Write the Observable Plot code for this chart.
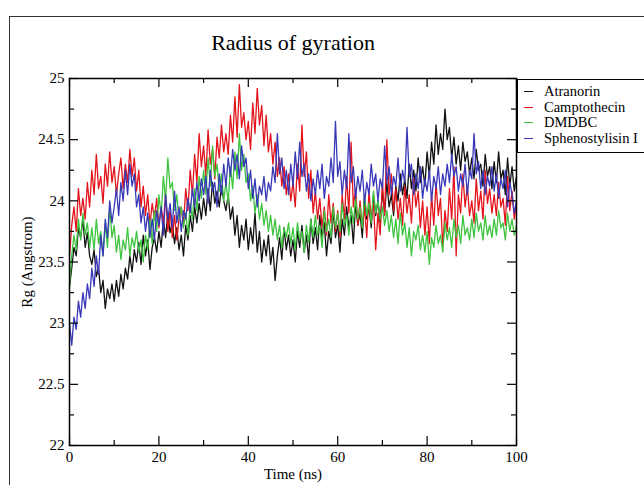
<!DOCTYPE html>
<html><head><meta charset="utf-8">
<script src="https://cdn.jsdelivr.net/npm/d3@7"></script>
<script src="https://cdn.jsdelivr.net/npm/@observablehq/plot@0.6"></script>
<style>
body{margin:0;background:#fff;}
#wrap{position:relative;width:644px;height:485px;overflow:hidden;font-family:'Liberation Serif','Times New Roman',serif;background:#fff;}
#wrap svg{position:absolute;left:0;top:0;}
#outer{position:absolute;left:9px;top:16px;width:700px;height:600px;border-left:1.5px solid #333;border-top:1.5px solid #333;}
#legend{position:absolute;left:517px;top:79px;width:140px;height:72px;border:1px solid #000;background:#fff;}
.row{position:absolute;left:0;height:16px;font-size:14.5px;line-height:16px;}
.sw{position:absolute;left:6px;top:8px;width:9px;height:0;border-top:1.3px solid;}
.lab{position:absolute;left:26px;top:0;white-space:nowrap;color:#000;}
</style></head>
<body><div id="wrap"></div>
<script>
const seriesNames = ["Atranorin","Camptothecin","DMDBC","Sphenostylisin I"];
const seriesColors = ["#111111","#e3141b","#3fc43f","#3838b8"];
const timeStep = 0.5; // ns between samples, t = 0..100
const xMajor = [0,20,40,60,80,100];
const xMinor = [10,30,50,70,90];
const yMajor = [22,22.5,23,23.5,24,24.5,25];
const yMinor = [22.25,22.75,23.25,23.75,24.25,24.75];
const titleText = "Radius of gyration";
const xLabel = "Time (ns)";
const yLabel = "Rg (Angstrom)";

const atranorin = [
23.30,23.45,23.62,23.55,23.78,23.70,23.85,23.62,23.74,23.55,
23.48,23.60,23.38,23.45,23.25,23.35,23.12,23.28,23.20,23.32,
23.18,23.35,23.22,23.40,23.28,23.45,23.36,23.55,23.42,23.60,
23.50,23.66,23.48,23.72,23.55,23.68,23.44,23.62,23.70,23.58,
23.75,23.62,23.85,23.70,23.90,23.74,23.82,23.65,23.78,23.60,
23.72,23.55,23.80,23.68,23.88,23.75,23.95,23.82,23.98,23.85,
24.02,23.88,24.10,23.92,24.15,23.98,24.08,23.95,24.12,24.00,
23.92,24.05,23.85,23.95,23.72,23.88,23.62,23.80,23.68,23.85,
23.60,23.78,23.65,23.90,23.58,23.75,23.50,23.68,23.55,23.72,
23.48,23.62,23.35,23.55,23.70,23.52,23.78,23.60,23.72,23.55,
23.68,23.50,23.75,23.62,23.80,23.58,23.72,23.52,23.85,23.65,
23.78,23.60,23.88,23.70,23.82,23.55,23.75,23.65,23.92,23.70,
23.80,23.58,23.85,23.72,23.95,23.78,23.88,23.65,23.98,23.80,
23.90,23.70,24.02,23.85,23.95,23.78,24.05,23.88,24.00,23.82,
24.08,23.90,24.15,23.95,24.05,23.88,24.12,24.00,24.22,24.05,
24.18,24.02,24.30,24.10,24.25,24.08,24.35,24.15,24.28,24.12,
24.40,24.20,24.48,24.30,24.62,24.38,24.55,24.42,24.75,24.50,
24.60,24.35,24.52,24.30,24.45,24.25,24.48,24.32,24.40,24.22,
24.35,24.18,24.42,24.25,24.30,24.12,24.38,24.20,24.28,24.10,
24.32,24.15,24.40,24.18,24.25,24.05,24.35,24.12,24.28,24.08,
24.20];

const camptothecin = [
23.55,23.80,23.95,23.75,24.10,23.88,24.02,23.85,24.15,23.95,
24.25,24.05,24.38,24.10,24.20,23.98,24.30,24.12,24.40,24.15,
24.28,24.05,24.22,24.35,24.10,24.30,24.15,24.42,24.20,24.35,
24.08,24.25,23.95,24.12,23.88,24.05,23.80,23.98,23.85,24.02,
23.78,23.95,23.82,24.05,23.75,23.92,23.70,23.88,23.68,23.85,
23.95,23.80,24.10,23.92,24.25,24.05,24.38,24.15,24.55,24.28,
24.45,24.20,24.58,24.30,24.42,24.18,24.52,24.35,24.62,24.40,
24.55,24.38,24.70,24.48,24.85,24.52,24.95,24.60,24.72,24.50,
24.65,24.42,24.80,24.55,24.92,24.62,24.78,24.45,24.70,24.40,
24.55,24.30,24.48,24.20,24.35,24.12,24.28,24.05,24.22,24.00,
24.15,23.95,24.30,24.08,24.62,24.20,24.40,24.02,24.25,23.90,
24.08,23.85,24.02,23.78,23.95,23.72,24.05,23.82,23.98,23.75,
23.92,23.70,24.05,23.85,24.20,23.90,24.48,23.95,24.10,23.80,
24.00,23.78,23.95,23.70,24.08,23.85,23.98,23.60,23.90,23.72,
24.15,23.88,24.50,24.05,24.22,23.92,24.10,23.85,24.02,23.80,
24.12,23.90,24.05,23.82,24.18,23.95,24.08,23.78,24.00,23.72,
23.95,23.65,24.05,23.80,24.15,23.88,24.02,23.62,23.92,23.75,
24.10,23.85,24.28,23.55,24.05,23.90,24.22,23.95,24.12,23.88,
24.00,23.82,24.18,23.92,24.08,23.85,24.25,23.98,24.10,23.90,
24.05,23.88,24.15,23.95,24.02,23.80,24.20,23.92,24.08,23.85,
23.98];

const dmdbc = [
23.30,23.55,23.72,23.60,23.85,23.68,23.90,23.72,23.82,23.62,
23.78,23.60,23.85,23.65,23.75,23.55,23.82,23.62,23.95,23.70,
23.80,23.58,23.72,23.52,23.68,23.60,23.78,23.55,23.70,23.62,
23.75,23.58,23.68,23.50,23.72,23.60,23.85,23.65,23.92,23.75,
24.05,23.88,24.20,24.00,24.35,24.10,24.15,23.92,24.05,23.85,
23.95,23.78,23.90,23.72,23.98,23.85,24.10,23.92,24.20,24.02,
24.25,24.05,24.35,24.12,24.45,24.20,24.30,24.08,24.22,24.00,
24.15,23.98,24.28,24.10,24.40,24.18,24.55,24.25,24.38,24.15,
24.22,24.00,24.12,23.90,24.05,23.85,23.98,23.80,23.92,23.75,
23.88,23.72,23.85,23.68,23.80,23.62,23.78,23.70,23.82,23.65,
23.78,23.60,23.82,23.68,23.75,23.58,23.80,23.66,23.85,23.70,
23.88,23.72,23.80,23.62,23.92,23.75,23.85,23.70,23.95,23.78,
23.90,23.75,23.98,23.80,23.88,23.72,23.95,23.82,24.02,23.85,
23.95,23.78,24.05,23.88,23.98,23.82,24.08,23.90,24.00,23.85,
23.95,23.80,23.92,23.75,23.88,23.70,23.85,23.65,23.90,23.72,
23.82,23.62,23.78,23.55,23.75,23.68,23.80,23.60,23.72,23.58,
23.75,23.48,23.70,23.62,23.80,23.65,23.72,23.58,23.82,23.68,
23.78,23.62,23.85,23.70,23.80,23.65,23.88,23.72,23.78,23.68,
23.85,23.70,23.90,23.75,23.82,23.68,23.88,23.72,23.80,23.70,
23.85,23.72,23.92,23.78,23.82,23.68,23.90,23.75,23.85,23.72,
23.80];

const sphenostylisin = [
23.00,22.82,23.05,22.95,23.18,23.05,23.25,23.12,23.32,23.20,
23.45,23.30,23.55,23.40,23.72,23.55,23.85,23.70,24.00,23.82,
23.95,24.10,23.88,24.15,24.00,24.25,24.05,24.30,24.12,24.22,
23.95,24.05,23.82,23.95,23.75,23.90,23.70,23.85,23.68,23.92,
23.80,23.95,23.72,24.05,23.85,23.98,23.78,24.08,23.82,23.95,
23.75,23.92,23.85,24.02,23.90,24.10,23.95,24.15,24.00,24.18,
24.05,24.20,23.98,24.25,24.08,24.15,23.95,24.22,24.05,24.30,
24.12,24.35,24.20,24.42,24.25,24.38,24.18,24.45,24.28,24.35,
24.10,24.25,24.02,24.18,23.95,24.12,24.05,24.20,24.00,24.15,
24.08,24.28,24.15,24.55,24.22,24.35,24.10,24.25,24.05,24.30,
24.12,24.40,24.18,24.48,24.20,24.30,24.08,24.22,24.00,24.18,
24.05,24.25,24.10,24.30,24.02,24.20,24.12,24.35,24.15,24.65,
24.20,24.32,24.05,24.25,24.10,24.55,24.15,24.28,24.02,24.20,
24.08,24.25,23.98,24.15,24.05,24.30,24.12,24.22,24.00,24.18,
24.10,24.45,24.15,24.28,24.05,24.20,24.12,24.35,24.08,24.25,
24.15,24.60,24.20,24.30,24.05,24.22,24.10,24.28,24.02,24.18,
24.08,24.25,24.00,24.20,24.10,24.28,24.05,24.22,24.12,24.30,
24.15,24.38,24.20,24.28,24.08,24.22,24.12,24.30,24.05,24.25,
24.18,24.55,24.22,24.32,24.10,24.25,24.05,24.20,24.12,24.28,
24.08,24.22,24.02,24.18,24.10,24.25,23.95,24.15,24.05,23.90,
24.00];

const seriesValues = [atranorin, camptothecin, dmdbc, sphenostylisin];
const rows = seriesValues.flatMap((arr, s) =>
  arr.map((v, i) => ({t: i * timeStep, rg: v, series: seriesNames[s]})));

const W = 644, H = 485, mL = 69, mR = 128, mT = 78, mB = 40;
const pW = W - mL - mR, pH = H - mT - mB;
const majorLen = 9, minorLen = 5;
const serif = "'Liberation Serif','Times New Roman',serif";
const fmt = d => `${d}`;

const chart = Plot.plot({
  width: W, height: H,
  marginLeft: mL, marginRight: mR, marginTop: mT, marginBottom: mB,
  style: {fontFamily: serif, background: "transparent", color: "#000"},
  x: {domain: [0, 100]},
  y: {domain: [22, 25]},
  color: {domain: seriesNames, range: seriesColors},
  marks: [
    Plot.lineY(rows, {x: "t", y: "rg", z: "series", stroke: "series", strokeWidth: 1.3}),
    Plot.frame({stroke: "#000", strokeWidth: 1.5}),
    Plot.tickX(xMajor, {insetTop: pH - majorLen, stroke: "#000", strokeWidth: 1.2}),
    Plot.tickX(xMinor, {insetTop: pH - minorLen, stroke: "#000", strokeWidth: 1.2}),
    Plot.tickX(xMajor, {insetBottom: pH - majorLen, stroke: "#000", strokeWidth: 1.2}),
    Plot.tickX(xMinor, {insetBottom: pH - minorLen, stroke: "#000", strokeWidth: 1.2}),
    Plot.tickY(yMajor, {insetRight: pW - majorLen, stroke: "#000", strokeWidth: 1.2}),
    Plot.tickY(yMinor, {insetRight: pW - minorLen, stroke: "#000", strokeWidth: 1.2}),
    Plot.tickY(yMajor, {insetLeft: pW - majorLen, stroke: "#000", strokeWidth: 1.2}),
    Plot.tickY(yMinor, {insetLeft: pW - minorLen, stroke: "#000", strokeWidth: 1.2}),
    Plot.axisX(xMajor, {tickSize: 0, tickPadding: 6, fontSize: 15, label: null, tickFormat: fmt}),
    Plot.axisY(yMajor, {tickSize: 0, tickPadding: 5, fontSize: 15, label: null, tickFormat: fmt}),
    Plot.text([xLabel], {frameAnchor: "bottom", dy: 29, fontSize: 15, lineAnchor: "middle", textAnchor: "middle"}),
    Plot.text([yLabel], {frameAnchor: "left", dx: -42, rotate: -90, fontSize: 15, lineAnchor: "middle", textAnchor: "middle"}),
    Plot.text([titleText], {frameAnchor: "top", dy: -36, fontSize: 22, lineAnchor: "middle", textAnchor: "middle"})
  ]
});

const wrap = document.getElementById("wrap");
wrap.appendChild(chart);
const outer = document.createElement("div");
outer.id = "outer";
wrap.appendChild(outer);
const legend = document.createElement("div");
legend.id = "legend";
seriesNames.forEach((name, i) => {
  const row = document.createElement("div");
  row.className = "row";
  row.style.top = (3 + i * 15.5) + "px";
  const sw = document.createElement("div");
  sw.className = "sw";
  sw.style.borderTopColor = seriesColors[i];
  const lab = document.createElement("div");
  lab.className = "lab";
  lab.textContent = name;
  row.appendChild(sw); row.appendChild(lab);
  legend.appendChild(row);
});
wrap.appendChild(legend);
</script>
</body></html>
